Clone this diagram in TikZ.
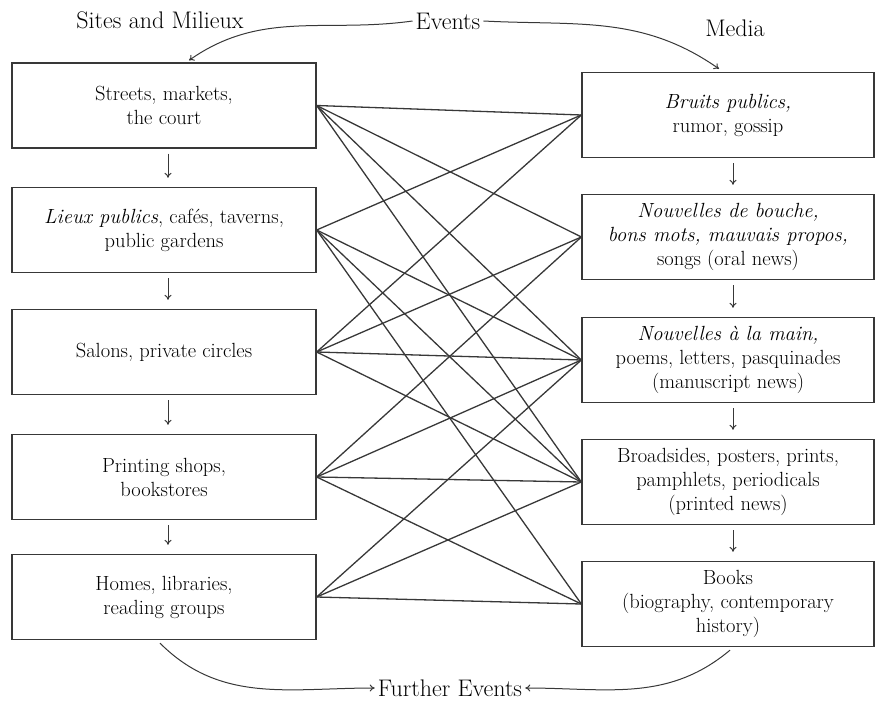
\documentclass[tikz,border=0pt]{standalone}
\usetikzlibrary{arrows.meta}
\definecolor{ink}{gray}{0.22}
\begin{document}
\begin{tikzpicture}[x=1pt,y=1pt,
  box/.style={draw=ink, line width=1.3pt, minimum height=85pt, align=center,
    font=\fontsize{20.5}{24}\selectfont, inner sep=0pt, text=black},
  lbox/.style={box, minimum width=304pt},
  rbox/.style={box, minimum width=292pt},
  link/.style={draw=ink, line width=1.3pt},
  arr/.style={draw=ink, line width=1pt, -{To[length=5pt,width=7pt]}},
  head/.style={font=\fontsize{24}{28}\selectfont, inner sep=3pt, text=black}]
\clip (0,0) rectangle (875,-706);
% headers
\node[head] (sites) at (160,-20) {Sites and Milieux};
\node[head] (events) at (448,-21) {Events};
\node[head] (media) at (735,-28) {Media};
\node[head] (further) at (450,-688) {Further Events};
% left column
\node[lbox] (L1) at (164,-105.5) {Streets, markets,\\the court};
\node[lbox] (L2) at (164,-230) {\textit{Lieux publics}, cafés, taverns,\\public gardens};
\node[lbox] (L3) at (164,-352) {Salons, private circles};
\node[lbox] (L4) at (164,-477) {Printing shops,\\bookstores};
\node[lbox] (L5) at (164,-597) {Homes, libraries,\\reading groups};
% right column
\node[rbox] (R1) at (728,-115) {\textit{Bruits publics,}\\rumor, gossip};
\node[rbox] (R2) at (728,-237) {\textit{Nouvelles de bouche,}\\\textit{bons mots, mauvais propos,}\\songs (oral news)};
\node[rbox] (R3) at (728,-360) {\textit{Nouvelles à la main,}\\poems, letters, pasquinades\\(manuscript news)};
\node[rbox] (R4) at (728,-482) {Broadsides, posters, prints,\\pamphlets, periodicals\\(printed news)};
\node[rbox] (R5) at (728,-604) {Books\\(biography, contemporary\\history)};
% vertical arrows
\foreach \a/\b in {1/2,2/3,3/4,4/5}{
  \draw[arr] ([xshift=4pt,yshift=-5pt]L\a.south) -- ([xshift=4pt,yshift=9pt]L\b.north);
  \draw[arr] ([xshift=5pt,yshift=-5pt]R\a.south) -- ([xshift=5pt,yshift=9pt]R\b.north);
}
% links
\foreach \a/\b in {1/1,1/2,1/3,1/4,2/1,2/3,2/4,2/5,3/1,3/2,3/3,3/4,4/2,4/3,4/4,4/5,5/3,5/4,5/5}
  \draw[link] (L\a.east) -- (R\b.west);
% curved arrows
\draw[arr] (events.west) to[out=188,in=35] ([xshift=25pt,yshift=2pt]L1.north);
\draw[arr] (events.east) to[out=-3,in=145] ([xshift=-9pt,yshift=3pt]R1.north);
\draw[arr] ([xshift=-4pt,yshift=-3pt]L5.south) to[out=-45,in=180] (further.west);
\draw[arr] ([xshift=2pt,yshift=-3pt]R5.south) to[out=-140,in=0] (further.east);
\end{tikzpicture}
\end{document}
